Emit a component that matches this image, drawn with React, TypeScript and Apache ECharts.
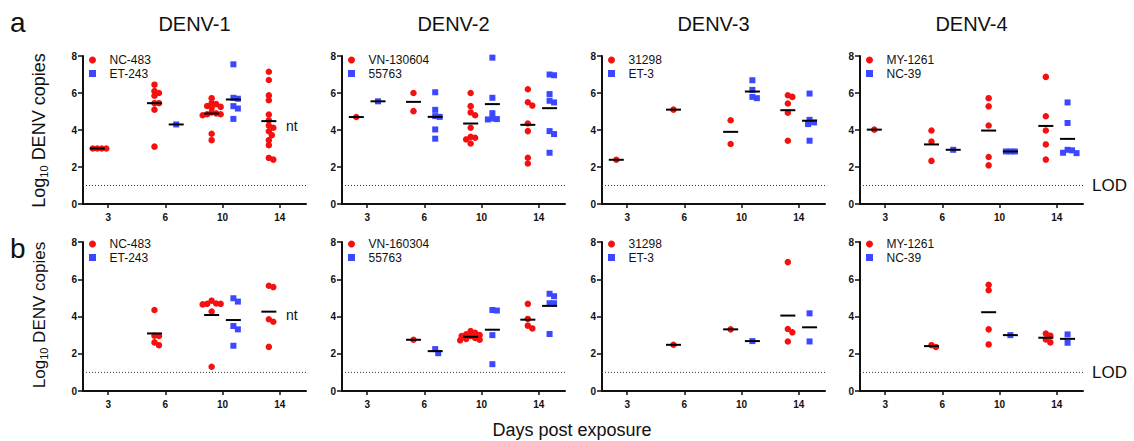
import React, { useEffect, useRef } from 'react';
import * as echarts from 'echarts';

// ---------- labels ----------
const DAY_LABELS = ['3', '6', '10', '14'];
const TITLES = ['DENV-1', 'DENV-2', 'DENV-3', 'DENV-4'];
const ROW_LETTERS = ['a', 'b'];
const RED_NAMES = [
  ['NC-483', 'VN-130604', '31298', 'MY-1261'],
  ['NC-483', 'VN-160304', '31298', 'MY-1261'],
];
const BLUE_NAMES = [
  ['ET-243', '55763', 'ET-3', 'NC-39'],
  ['ET-243', '55763', 'ET-3', 'NC-39'],
];
const LOD = 1;
const Y_MIN = 0;
const Y_MAX = 8;
const Y_INTERVAL = 2;

// ---------- data (per day: 3, 6, 10, 14) ----------
// Row a
const a1Red = [[3.0, 3.0, 3.0, 3.0], [6.45, 6.1, 6.0, 5.85, 5.45, 5.45, 5.1, 3.1], [5.72, 5.45, 5.4, 5.3, 5.25, 5.2, 4.95, 4.9, 4.85, 4.85, 4.8, 3.8, 3.45], [7.15, 6.7, 5.87, 5.61, 4.84, 4.53, 4.24, 4.12, 3.93, 3.72, 3.45, 3.18, 2.49, 2.4]];
const a1RedMean = [3.0, 5.45, 4.89, 4.48];
const a1Blue = [[], [4.3], [7.55, 5.74, 5.69, 5.29, 5.16, 4.6], []];
const a1BlueMean = [null, 4.3, 5.65, null];

const a2Red = [[4.7], [6.0, 5.02], [6.0, 5.29, 4.95, 4.8, 4.12, 3.63, 3.58, 3.49, 3.27], [6.2, 5.5, 5.32, 4.35, 3.94, 2.5, 2.19]];
const a2RedMean = [4.7, 5.52, 4.35, 4.28];
const a2Blue = [[5.55], [6.04, 5.09, 4.75, 4.71, 4.03, 3.53], [7.91, 5.74, 4.91, 4.62, 4.59, 4.57], [7.0, 6.96, 5.94, 5.58, 5.49, 3.94, 3.78, 2.77]];
const a2BlueMean = [5.55, 4.71, 5.4, 5.18];

const a3Red = [[2.39], [5.1], [4.53, 3.24], [5.88, 5.79, 5.43, 4.93, 3.42]];
const a3RedMean = [2.39, 5.1, 3.9, 5.07];
const a3Blue = [[], [], [6.69, 6.17, 5.79, 5.72], [5.97, 4.55, 4.41, 4.32, 3.42]];
const a3BlueMean = [null, null, 6.08, 4.5];

const a4Red = [[4.02], [3.97, 3.38, 2.33], [5.72, 5.28, 4.24, 2.54, 2.09], [6.87, 4.74, 3.97, 3.22, 2.4]];
const a4RedMean = [4.02, 3.22, 3.97, 4.22];
const a4Blue = [[], [2.93], [2.84, 2.84, 2.84], [5.49, 4.38, 2.93, 2.9, 2.77, 2.75]];
const a4BlueMean = [null, 2.93, 2.84, 3.52];

// Row b
const b1Red = [[], [4.35, 2.97, 2.95, 2.61, 2.46], [4.85, 4.7, 4.68, 4.68, 4.65, 4.27, 1.3], [5.65, 5.58, 3.85, 3.72, 2.37]];
const b1RedMean = [null, 3.09, 4.08, 4.26];
const b1Blue = [[], [], [4.98, 4.8, 3.49, 3.31, 2.43], []];
const b1BlueMean = [null, null, 3.81, null];

const b2Red = [[], [2.75], [3.22, 3.12, 3.05, 3.0, 2.95, 2.95, 2.85, 2.8, 2.75, 2.72], [4.68, 3.87, 3.51, 3.36]];
const b2RedMean = [null, 2.75, 2.91, 3.83];
const b2Blue = [[], [2.25, 2.03], [4.35, 4.32, 3.0, 1.44], [5.22, 5.09, 4.71, 4.71, 3.06]];
const b2BlueMean = [null, 2.14, 3.29, 4.57];

const b3Red = [[], [2.48], [3.31], [6.92, 3.33, 3.15, 2.66]];
const b3RedMean = [null, 2.48, 3.31, 4.05];
const b3Blue = [[], [], [2.68], [4.17, 2.66]];
const b3BlueMean = [null, null, 2.68, 3.42];

const b4Red = [[], [2.46, 2.36], [5.7, 5.41, 3.31, 2.5], [3.09, 2.97, 2.77, 2.61]];
const b4RedMean = [null, 2.41, 4.23, 2.86];
const b4Blue = [[], [], [3.0], [3.04, 2.59]];
const b4BlueMean = [null, null, 3.0, 2.8];

const PANELS = [
  [
    { red: a1Red, redMean: a1RedMean, blue: a1Blue, blueMean: a1BlueMean },
    { red: a2Red, redMean: a2RedMean, blue: a2Blue, blueMean: a2BlueMean },
    { red: a3Red, redMean: a3RedMean, blue: a3Blue, blueMean: a3BlueMean },
    { red: a4Red, redMean: a4RedMean, blue: a4Blue, blueMean: a4BlueMean },
  ],
  [
    { red: b1Red, redMean: b1RedMean, blue: b1Blue, blueMean: b1BlueMean },
    { red: b2Red, redMean: b2RedMean, blue: b2Blue, blueMean: b2BlueMean },
    { red: b3Red, redMean: b3RedMean, blue: b3Blue, blueMean: b3BlueMean },
    { red: b4Red, redMean: b4RedMean, blue: b4Blue, blueMean: b4BlueMean },
  ],
];

// ---------- layout / style ----------
const FONT = '"Liberation Sans", Arial, Helvetica, sans-serif';
const RED = '#f50f0f';
const BLUE = '#3b48ff';
const GRID_LEFTS = [83, 342, 602, 860];
const GRID_W = 223;
const ROW_TOPS = [56, 242];
const ROW_H = [148, 149];
const LEGEND_TOPS = [54, 238];
const X_MIN = -0.44;
const X_MAX = 3.46;
const GROUP_OFFSET = 0.19;

// simple deterministic beeswarm layout (pixel space) around a group centre
function swarm(values: number[], center: number, xUnit: number, yUnit: number) {
  const minDist = 4.5;
  const step = 1.5;
  const placed: { x: number; y: number }[] = [];
  const out: number[][] = [];
  values.forEach((v) => {
    const y = v * yUnit;
    let k = 0;
    for (;;) {
      const off = k === 0 ? 0 : (k % 2 === 1 ? 1 : -1) * Math.ceil(k / 2) * step;
      const ok = placed.every((p) => Math.hypot(p.x - off, p.y - y) >= minDist);
      if (ok) {
        placed.push({ x: off, y });
        out.push([center + off / xUnit, v]);
        break;
      }
      k++;
    }
  });
  return out;
}

function buildOption() {
  const grids: any[] = [];
  const xAxes: any[] = [];
  const yAxes: any[] = [];
  const series: any[] = [];
  const legends: any[] = [];
  const graphics: any[] = [];

  for (let r = 0; r < 2; r++) {
    for (let c = 0; c < 4; c++) {
      const i = r * 4 + c;
      const left = GRID_LEFTS[c];
      const top = ROW_TOPS[r];
      const h = ROW_H[r];
      grids.push({ left, top, width: GRID_W, height: h, outerBoundsMode: 'none' });
      xAxes.push({
        type: 'value',
        gridIndex: i,
        min: X_MIN,
        max: X_MAX,
        splitLine: { show: false },
        axisLine: { show: true, onZero: false, lineStyle: { color: '#111', width: 2 } },
        axisTick: { show: true, customValues: [0, 1, 2, 3], length: 4, lineStyle: { color: '#111', width: 1.5 } },
        axisLabel: {
          customValues: [0, 1, 2, 3],
          formatter: (v: number) => DAY_LABELS[Math.round(v)] ?? '',
          fontFamily: FONT,
          fontWeight: 'bold',
          fontSize: 10,
          color: '#111',
          margin: 8,
        },
      });
      yAxes.push({
        type: 'value',
        gridIndex: i,
        min: Y_MIN,
        max: Y_MAX,
        interval: Y_INTERVAL,
        splitLine: { show: false },
        axisLine: { show: true, onZero: false, lineStyle: { color: '#111', width: 2 } },
        axisTick: { show: true, length: 5, lineStyle: { color: '#111', width: 1.5 } },
        axisLabel: { fontFamily: FONT, fontWeight: 'bold', fontSize: 10, color: '#111', margin: 6 },
      });

      const xUnit = GRID_W / (X_MAX - X_MIN);
      const yUnit = h / (Y_MAX - Y_MIN);
      const p = PANELS[r][c];

      series.push({
        type: 'line',
        xAxisIndex: i,
        yAxisIndex: i,
        data: [[X_MIN, LOD], [X_MAX, LOD]],
        symbol: 'none',
        silent: true,
        z: 1,
        lineStyle: { color: '#333', width: 1, type: [1, 2] },
      });

      const redPts: number[][] = [];
      const bluePts: number[][] = [];
      const means: number[][] = [];
      p.red.forEach((vals: number[], d: number) => redPts.push(...swarm(vals, d - GROUP_OFFSET, xUnit, yUnit)));
      p.blue.forEach((vals: number[], d: number) => bluePts.push(...swarm(vals, d + GROUP_OFFSET, xUnit, yUnit)));
      p.redMean.forEach((m: number | null, d: number) => { if (m != null) means.push([d - GROUP_OFFSET, m]); });
      p.blueMean.forEach((m: number | null, d: number) => { if (m != null) means.push([d + GROUP_OFFSET, m]); });

      series.push({
        type: 'scatter',
        name: RED_NAMES[r][c],
        xAxisIndex: i,
        yAxisIndex: i,
        data: redPts,
        symbol: 'circle',
        symbolSize: 6.5,
        itemStyle: { color: RED, opacity: 1 },
        z: 2,
      });
      series.push({
        type: 'scatter',
        name: BLUE_NAMES[r][c],
        xAxisIndex: i,
        yAxisIndex: i,
        data: bluePts,
        symbol: 'rect',
        symbolSize: 6,
        itemStyle: { color: BLUE, opacity: 1 },
        z: 2,
      });
      series.push({
        type: 'scatter',
        name: 'mean',
        xAxisIndex: i,
        yAxisIndex: i,
        data: means,
        symbol: 'rect',
        symbolSize: [15, 2],
        itemStyle: { color: '#000', opacity: 1 },
        silent: true,
        z: 3,
      });

      legends.push({
        left: left + 6,
        top: LEGEND_TOPS[r],
        orient: 'vertical',
        padding: 0,
        itemWidth: 7,
        itemHeight: 7,
        itemGap: 1.5,
        selectedMode: false,
        data: [
          { name: RED_NAMES[r][c], icon: 'circle', itemStyle: { color: RED, opacity: 1 } },
          { name: BLUE_NAMES[r][c], icon: 'rect', itemStyle: { color: BLUE, opacity: 1 } },
        ],
        textStyle: { fontFamily: FONT, fontSize: 12, lineHeight: 12, color: '#111', padding: [0, 0, 0, 8.5] },
      });
    }
  }

  // titles
  TITLES.forEach((t, c) => {
    graphics.push({
      type: 'text',
      x: GRID_LEFTS[c] + GRID_W / 2,
      y: 24,
      style: { text: t, fontFamily: FONT, fontSize: 20, fill: '#111', align: 'center', verticalAlign: 'middle' },
    });
  });
  // row letters
  ROW_LETTERS.forEach((l, r) => {
    graphics.push({
      type: 'text',
      x: 10,
      y: r === 0 ? 22.5 : 248.5,
      style: { text: l, fontFamily: FONT, fontSize: 28, fill: '#111', align: 'left', verticalAlign: 'middle' },
    });
  });
  // y-axis names
  [130.5, 315].forEach((cy, r) => {
    graphics.push({
      type: 'text',
      x: 39,
      y: cy,
      rotation: Math.PI / 2,
      style: {
        text: '{n|Log}{s|10}{n| DENV copies}',
        align: 'center',
        verticalAlign: 'middle',
        fill: '#111',
        fontFamily: FONT,
        rich: {
          n: { fontFamily: FONT, fontSize: r === 0 ? 18 : 17, lineHeight: 20, fill: '#111' },
          s: { fontFamily: FONT, fontSize: 11, lineHeight: 11, verticalAlign: 'bottom', fill: '#111' },
        },
      },
    });
  });
  // x-axis name
  graphics.push({
    type: 'text',
    x: 572,
    y: 430,
    style: { text: 'Days post exposure', fontFamily: FONT, fontSize: 18, fill: '#111', align: 'center', verticalAlign: 'middle' },
  });
  // "nt" notes
  [126, 315].forEach((y) => {
    graphics.push({
      type: 'text',
      x: 286,
      y,
      style: { text: 'nt', fontFamily: FONT, fontSize: 14, fill: '#111', align: 'left', verticalAlign: 'middle' },
    });
  });
  // LOD labels
  [185, 372].forEach((y) => {
    graphics.push({
      type: 'text',
      x: 1092,
      y,
      style: { text: 'LOD', fontFamily: FONT, fontSize: 17, fill: '#111', align: 'left', verticalAlign: 'middle' },
    });
  });

  return {
    animation: false,
    backgroundColor: '#ffffff',
    textStyle: { fontFamily: FONT },
    grid: grids,
    xAxis: xAxes,
    yAxis: yAxes,
    legend: legends,
    series,
    graphic: graphics,
  };
}

export default function App() {
  const ref = useRef<HTMLDivElement>(null);
  useEffect(() => {
    if (!ref.current) return;
    const chart = echarts.init(ref.current, undefined, { renderer: 'svg' });
    chart.setOption(buildOption() as any);
    return () => chart.dispose();
  }, []);
  return (
    <div
      ref={ref}
      style={{ position: 'fixed', left: 0, top: 0, width: 1134, height: 441, background: '#fff' }}
    />
  );
}
